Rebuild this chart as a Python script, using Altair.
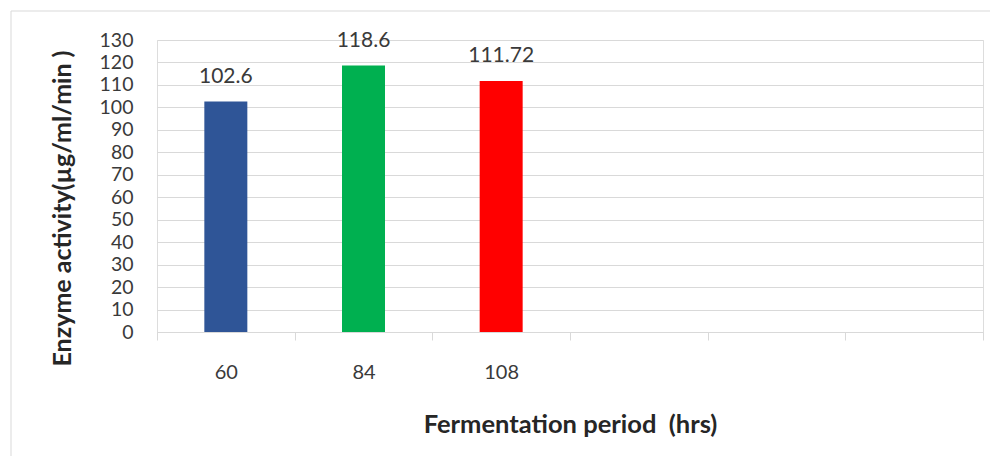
import altair as alt
import pandas as pd

periods = ["60", "84", "108"]
activity = [102.6, 118.6, 111.72]
bar_colors = ["#2F5597", "#00B050", "#FF0000"]
empty_slots = [" ", "  ", "   "]
y_ticks = list(range(0, 131, 10))

df = pd.DataFrame({
    "period": periods,
    "activity": activity,
    "color": bar_colors,
    "label": [str(v) for v in activity],
})

domain = periods + empty_slots
FONT = "Lato"

x_enc = alt.X(
    "period:N",
    scale=alt.Scale(domain=domain, paddingInner=0, paddingOuter=0),
    sort=domain,
    axis=alt.Axis(
        title="Fermentation period\u00a0\u00a0(hrs)",
        labelAngle=0,
        tickBand="extent",
        ticks=True,
        tickSize=8,
        tickColor="#d9d9d9",
        domainColor="#d9d9d9",
        domainWidth=1,
        grid=False,
        labelFont=FONT,
        labelFontSize=20,
        labelColor="#3a3a3a",
        labelPadding=22,
        labelBaseline="top",
        titleFont=FONT,
        titleFontSize=25.5,
        titleFontWeight="bold",
        titleColor="#262626",
        titleY=92,
        titleBaseline="middle",
    ),
)

y_enc = alt.Y(
    "activity:Q",
    scale=alt.Scale(domain=[0, 130], nice=False),
    axis=alt.Axis(
        title="Enzyme activity(µg/ml/min )",
        values=y_ticks,
        labelOverlap=False,
        ticks=False,
        domain=False,
        grid=True,
        gridColor="#d9d9d9",
        gridWidth=1,
        labelFont=FONT,
        labelFontSize=19.5,
        labelColor="#3a3a3a",
        labelPadding=24,
        titleFont=FONT,
        titleFontSize=25,
        titleFontWeight="bold",
        titleColor="#262626",
        titleX=-95,
        titleY=168,
        titleBaseline="middle",
    ),
)

base = alt.Chart(df).encode(x=x_enc, y=y_enc)

bars = base.mark_bar(size=43).encode(
    color=alt.Color("color:N", scale=None, legend=None),
)

labels = base.mark_text(
    baseline="bottom", dy=-15, font=FONT, fontSize=21, color="#3a3a3a"
).encode(
    text="label:N",
)

frame_top = alt.Chart(pd.DataFrame({"k": [0]})).mark_rule(
    color="#d9d9d9", strokeWidth=1
).encode(x=alt.value(-146), x2=alt.value(840), y=alt.value(-29))

frame_left = alt.Chart(pd.DataFrame({"k": [0]})).mark_rule(
    color="#d9d9d9", strokeWidth=1
).encode(x=alt.value(-146), y=alt.value(-29), y2=alt.value(420))

chart = alt.layer(bars, labels, frame_top, frame_left).properties(
    width=826,
    height=292,
    autosize=alt.AutoSizeParams(type="none"),
    padding={"left": 149, "top": 32, "right": 7, "bottom": 124},
).configure_view(strokeWidth=0).configure(background="white")

chart.save("out.html", embed_options={"renderer": "svg", "actions": False})
